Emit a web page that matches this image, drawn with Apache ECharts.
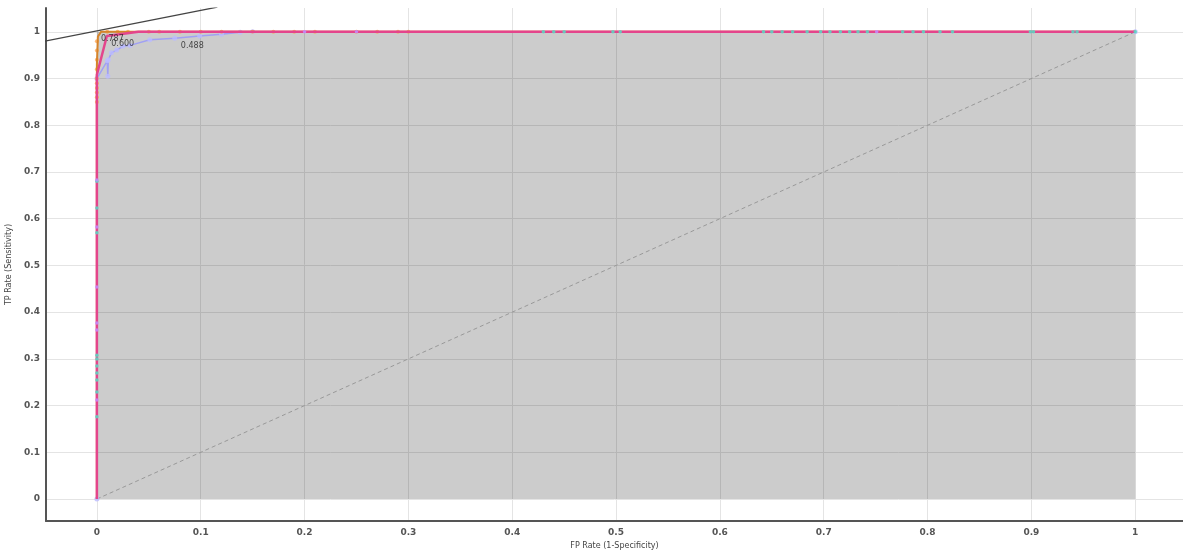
<!DOCTYPE html>
<html>
<head>
<meta charset="utf-8">
<script src="https://cdn.jsdelivr.net/npm/echarts@6/dist/echarts.min.js"></script>
<style>
html,body{margin:0;padding:0;background:#fff;}
#chart{width:1183px;height:550px;}
</style>
</head>
<body>
<div id="chart"></div>
<script>
// ---- data ----
const xTicks = [0, 0.1, 0.2, 0.3, 0.4, 0.5, 0.6, 0.7, 0.8, 0.9, 1];
const yTicks = [0, 0.1, 0.2, 0.3, 0.4, 0.5, 0.6, 0.7, 0.8, 0.9, 1];

const aucArea = [[0, 0], [0, 1], [1, 1]];
const diagonal = [[0, 0], [1, 1]];
const tangentLine = [[-0.05, 0.980], [0.116, 1.053]];

const orangeCurve = [[0, 0], [0, 0.85], [0, 0.93], [0.001, 0.99], [0.004, 1.0], [0.05, 1.0], [1, 1]];
const pinkCurve = [[0, 0], [0, 0.6], [0, 0.908], [0.0096, 0.991], [0.04, 1.0], [1, 1]];
const blueCurve = [[0, 0], [0, 0.9], [0.01, 0.938], [0.0105, 0.905], [0.011, 0.94], [0.014, 0.955],
  [0.019, 0.961], [0.025, 0.969], [0.032, 0.971], [0.051, 0.983], [0.075, 0.986], [0.099, 0.991],
  [0.12, 0.995], [0.138, 0.999], [0.15, 1.0], [1, 1]];

const orangePoints = [[0, 0.85], [0, 0.86], [0, 0.87], [0, 0.88], [0, 0.89], [0, 0.9], [0, 0.92], [0, 0.94],
  [0, 0.96], [0, 0.98], [0.01, 1], [0.02, 1], [0.03, 1], [0.05, 1], [0.06, 1], [0.08, 1], [0.1, 1],
  [0.12, 1], [0.15, 1], [0.17, 1], [0.19, 1], [0.21, 1], [0.25, 1], [0.27, 1], [0.29, 1], [0.3, 1]];
const tealPoints = [[0, 0.176], [0, 0.229], [0, 0.255], [0, 0.27], [0, 0.285], [0, 0.3], [0, 0.308],
  [0, 0.57], [0, 0.623], [0, 0.68], [0.43, 1], [0.44, 1], [0.45, 1], [0.497, 1], [0.504, 1],
  [0.642, 1], [0.65, 1], [0.66, 1], [0.67, 1], [0.684, 1], [0.697, 1], [0.706, 1], [0.716, 1],
  [0.725, 1], [0.733, 1], [0.742, 1], [0.776, 1], [0.786, 1], [0.796, 1], [0.812, 1], [0.824, 1],
  [0.899, 1], [0.902, 1], [0.94, 1], [0.944, 1], [1, 1]];
const purplePoints = [[0, 0.212], [0, 0.362], [0, 0.377], [0, 0.454], [0, 0.582], [0, 0.683],
  [0.2, 1], [0.25, 1], [0.751, 1]];

const thresholdLabels = [[0, 1.0, '0.787'], [0.01, 0.99, '0.600'], [0.077, 0.984, '0.488']];

// ---- chart ----
const chart = echarts.init(document.getElementById('chart'));
const labelFont = { color: '#555', fontSize: 9, fontWeight: 'bold', fontFamily: 'DejaVu Sans' };
const gridLine = { show: true, showMinLine: false, showMaxLine: false, lineStyle: { color: '#e4e4e4', width: 1 } };
const fmt = ticks => v => ticks.indexOf(Math.round(v * 1000) / 1000) >= 0 ? String(Math.round(v * 10) / 10) : '';

chart.setOption({
  animation: false,
  backgroundColor: '#fff',
  grid: { left: 46, right: 0, top: 8, bottom: 29, containLabel: false, outerBoundsMode: 'none' },
  xAxis: {
    type: 'value', min: -0.049, max: 1.046, splitNumber: 11,
    name: 'FP Rate (1-Specificity)', nameLocation: 'middle', nameGap: 21,
    nameTextStyle: { color: '#444', fontSize: 8, fontFamily: 'DejaVu Sans' },
    axisLine: { show: true, onZero: false, lineStyle: { color: '#555', width: 2 } },
    axisTick: { show: false },
    axisLabel: Object.assign({ margin: 7, showMinLabel: false, showMaxLabel: false, formatter: fmt(xTicks) }, labelFont),
    splitLine: gridLine
  },
  yAxis: {
    type: 'value', min: -0.047, max: 1.051, splitNumber: 11,
    name: 'TP Rate (Sensitivity)', nameLocation: 'middle', nameGap: 28,
    nameTextStyle: { color: '#444', fontSize: 8, fontFamily: 'DejaVu Sans' },
    axisLine: { show: true, onZero: false, lineStyle: { color: '#555', width: 2 } },
    axisTick: { show: false },
    axisLabel: Object.assign({ margin: 6, showMinLabel: false, showMaxLabel: false, formatter: fmt(yTicks) }, labelFont),
    splitLine: gridLine
  },
  series: [
    { type: 'line', data: aucArea, symbol: 'none', lineStyle: { width: 0 },
      areaStyle: { color: 'rgba(0,0,0,0.2)', opacity: 1, origin: 'auto' }, z: 1, silent: true },
    { type: 'line', data: diagonal, symbol: 'none', lineStyle: { color: '#999', width: 1, type: [4, 3] }, z: 2 },
    { type: 'line', data: tangentLine, symbol: 'none', clip: true, lineStyle: { color: '#444', width: 1.2 }, z: 3 },
    { type: 'line', data: blueCurve, symbol: 'circle', symbolSize: 5,
      itemStyle: { color: '#bbbbff', opacity: 0.8 }, lineStyle: { color: '#a0a0f4', width: 1.5 }, z: 4 },
    { type: 'scatter', data: orangePoints, symbol: 'circle', symbolSize: 4,
      itemStyle: { color: '#ffa24a', opacity: 0.75 }, z: 5 },
    { type: 'line', data: orangeCurve, symbol: 'none', lineStyle: { color: '#d6842a', width: 2 }, z: 6 },
    { type: 'line', data: pinkCurve, symbol: 'none', lineStyle: { color: '#e4458c', width: 2.5 }, z: 7 },
    { type: 'scatter', data: tealPoints, symbol: 'circle', symbolSize: 3.5,
      itemStyle: { color: '#55dcc4', opacity: 0.85 }, z: 8 },
    { type: 'scatter', data: purplePoints, symbol: 'circle', symbolSize: 3.5,
      itemStyle: { color: '#c48cff', opacity: 0.85 }, z: 8 },
    { type: 'scatter', data: thresholdLabels.map(d => [d[0], d[1], d[2]]), symbolSize: 0, z: 9,
      label: { show: true, position: [4, 3], align: 'left', verticalAlign: 'top',
        formatter: p => p.value[2], color: '#222', fontSize: 8, fontFamily: 'DejaVu Sans' } }
  ]
});
</script>
</body>
</html>
